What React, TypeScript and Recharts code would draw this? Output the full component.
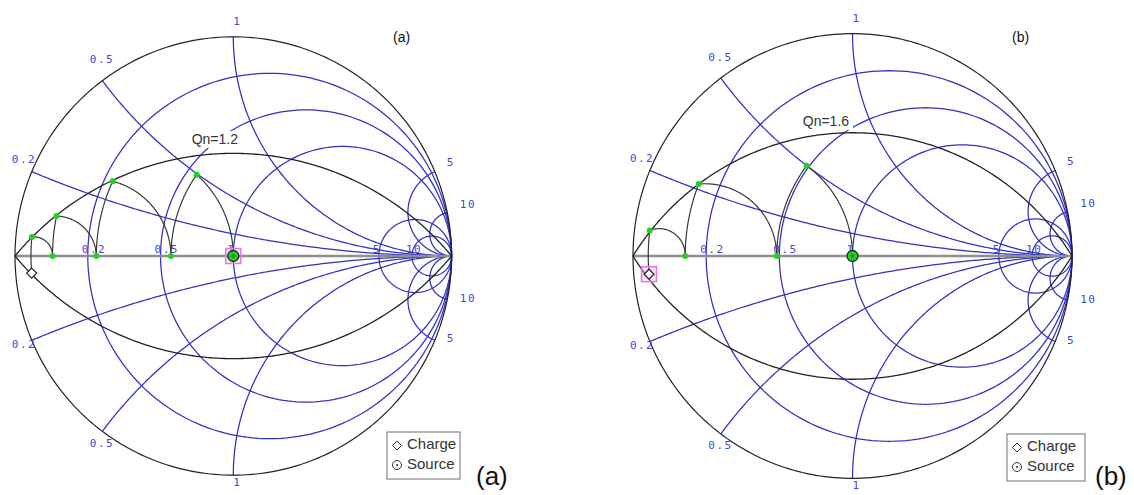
import React from 'react';
import { ScatterChart, Scatter, XAxis, YAxis } from 'recharts';

// ---------------- data ----------------
const resistanceValues = [0.2, 0.5, 1, 5, 10];
const reactanceValues = [0.2, 0.5, 1, 5, 10];
const resistanceTickLabels = ['0.2', '0.5', '1', '5', '10'];
const reactanceTickLabels = ['0.2', '0.5', '1', '5', '10'];

const qualityA = 1.2;
const qualityB = 1.6;
const qualityLabelA = 'Qn=1.2';
const qualityLabelB = 'Qn=1.6';

// matching path, normalized impedance nodes r + jx, from the load (first) to the source (last)
const pathAResistance = [0.038, 0.038, 0.094, 0.094, 0.229, 0.229, 0.556, 0.556, 1];
const pathAReactance = [-0.042, 0.047, 0, 0.11, 0, 0.27, 0, 0.494, 0];
const pathAElements = ['series', 'shunt', 'series', 'shunt', 'series', 'shunt', 'series', 'shunt'];

const pathBResistance = [0.036, 0.036, 0.135, 0.135, 0.487, 0.487, 1];
const pathBReactance = [-0.044, 0.062, 0, 0.216, 0, 0.499, 0];
const pathBElements = ['series', 'shunt', 'series', 'shunt', 'series', 'shunt'];

const legendLabels = ['Charge', 'Source'];
const panelTags = ['(a)', '(b)'];
const highlightedNode = ['source', 'load'];

// ---------------- layout & style ----------------
const PAGE_W = 1134;
const PAGE_H = 495;
const LAYOUT = [
  { left: 0, width: 570, cx: 233.3, cy: 256, rx: 218.3, ry: 219.2, qAt: -0.08, qDx: -1, qDy: -10,
    tagX: 393, tagY: 42, capX: 476, box: { x: 387, y: 432, w: 73, h: 47 } },
  { left: 575, width: 559, cx: 852.5, cy: 256, rx: 219.5, ry: 222.4, qAt: -0.121, qDx: 0, qDy: -8,
    tagX: 1012, tagY: 42, capX: 1095, box: { x: 1007, y: 434, w: 78, h: 47 } },
];
const X_NUDGE: Record<string, { dx: number; up: number; down: number }> = {
  '0.2': { dx: -20, up: -8.5, down: 7.5 },
  '0.5': { dx: -12.5, up: -17.5, down: 15.5 },
  '1': { dx: 0, up: -12, down: 11 },
  '5': { dx: 12, up: -5.5, down: 2 },
  '10': { dx: 12.5, up: -4.5, down: 3 },
};
const BLUE = '#3030c2';
const LABEL_BLUE = '#4545d2';
const BLACK = '#222222';
const PATH = '#383838';
const AXIS = '#8f8f8f';
const GREEN = '#22d022';
const PINK = '#e27ae2';
const SANS = '"Liberation Sans", Arial, sans-serif';

// ---------------- geometry helpers ----------------
type Pt = { x: number; y: number };
const toGamma = (r: number, x: number): Pt => {
  const den = (r + 1) * (r + 1) + x * x;
  return { x: (r * r - 1 + x * x) / den, y: (2 * x) / den };
};
const inv = (a: number, b: number) => {
  const d = a * a + b * b;
  return { a: a / d, b: -b / d };
};
const arcPoints = (cx: number, cy: number, rad: number, a0: number, a1: number, n: number): Pt[] => {
  const pts: Pt[] = [];
  for (let i = 0; i <= n; i++) {
    const a = a0 + ((a1 - a0) * i) / n;
    pts.push({ x: cx + rad * Math.cos(a), y: cy + rad * Math.sin(a) });
  }
  return pts;
};
const resistanceCircle = (r: number) => arcPoints(r / (1 + r), 0, 1 / (1 + r), 0, 2 * Math.PI, 200);
const reactanceEdge = (v: number): Pt => ({ x: (v * v - 1) / (v * v + 1), y: (2 * v) / (v * v + 1) });
const reactanceArc = (v: number, sign: number) => {
  const e = reactanceEdge(v);
  const c = 1 / v;
  const a0 = Math.atan2(e.y - c, e.x - 1);
  let a1 = -Math.PI / 2;
  if (a1 < a0) a1 += 2 * Math.PI;
  return arcPoints(1, c, c, a0, a1, 180).map((p) => ({ x: p.x, y: sign * p.y }));
};
const qualityArc = (q: number, sign: number) => {
  const c = 1 / q;
  const R = Math.sqrt(1 + c * c);
  const a = Math.atan(c);
  return arcPoints(0, -c, R, Math.PI - a, a, 220).map((p) => ({ x: p.x, y: sign * p.y }));
};
const qualityArcY = (q: number, gx: number) => -1 / q + Math.sqrt(1 + 1 / (q * q) - gx * gx);
const segmentPoints = (r0: number, x0: number, r1: number, x1: number, kind: string, n = 100): Pt[] => {
  const pts: Pt[] = [];
  const y0 = inv(r0, x0);
  const y1 = inv(r1, x1);
  for (let i = 0; i <= n; i++) {
    const t = i / n;
    if (kind === 'series') {
      pts.push(toGamma(r0 + (r1 - r0) * t, x0 + (x1 - x0) * t));
    } else {
      const z = inv(y0.a + (y1.a - y0.a) * t, y0.b + (y1.b - y0.b) * t);
      pts.push(toGamma(z.a, z.b));
    }
  }
  return pts;
};

// ---------------- shapes ----------------
const Nothing = () => <g />;
const makeText = (style: any) => (p: any) => (
  <text x={p.cx + p.payload.dx} y={p.cy + p.payload.dy} {...style}>
    {p.payload.label}
  </text>
);
const blueText = makeText({ fill: LABEL_BLUE, fontSize: 11, fontFamily: '"DejaVu Sans Mono", monospace', letterSpacing: 1.5 });
const QLabel = (p: any) => {
  const x = p.cx + p.payload.dx;
  const y = p.cy + p.payload.dy;
  return (
    <g>
      <rect x={x - 27} y={y - 13} width={54} height={17} fill="#ffffff" />
      <text x={x} y={y} textAnchor="middle" fill="#333" fontSize={14} fontFamily={SANS}>
        {p.payload.label}
      </text>
    </g>
  );
};
const GreenDot = (p: any) => <circle cx={p.cx} cy={p.cy} r={3} fill={GREEN} />;
const Diamond = (p: any) => (
  <polygon
    points={`${p.cx},${p.cy - 5} ${p.cx + 5},${p.cy} ${p.cx},${p.cy + 5} ${p.cx - 5},${p.cy}`}
    fill="#fff"
    stroke="#222"
    strokeWidth={1.2}
  />
);
const SourceMark = (p: any) => (
  <g>
    <circle cx={p.cx} cy={p.cy} r={5.5} fill={GREEN} stroke="#222" strokeWidth={1.3} />
    <circle cx={p.cx} cy={p.cy} r={2} fill="#119911" />
  </g>
);
const PinkSquare = (p: any) => (
  <rect x={p.cx - 7.5} y={p.cy - 7.5} width={15} height={15} fill="rgba(240,170,240,0.35)" stroke={PINK} strokeWidth={1.5} />
);

const curve = (key: string, data: Pt[], stroke: string, width: number) => (
  <Scatter
    key={key}
    data={data}
    line={{ stroke, strokeWidth: width }}
    lineType="joint"
    shape={Nothing}
    isAnimationActive={false}
  />
);

function SmithPanel({ index, quality, qLabel, rs, xs, kinds }: any) {
  const L = LAYOUT[index];
  const lcx = L.cx - L.left;
  const xDomain = [-lcx / L.rx, (L.width - lcx) / L.rx];
  const yDomain = [(L.cy - PAGE_H) / L.ry, L.cy / L.ry];

  const nodes = rs.map((r: number, i: number) => toGamma(r, xs[i]));
  const rLabels = resistanceValues.map((r, i) => ({ ...toGamma(r, 0), label: resistanceTickLabels[i], dx: -6, dy: -3 }));
  const xLabels = reactanceValues.flatMap((v, i) => {
    const e = reactanceEdge(v);
    const n = X_NUDGE[reactanceTickLabels[i]];
    return [
      { x: e.x, y: e.y, label: reactanceTickLabels[i], dx: n.dx, dy: n.up },
      { x: e.x, y: -e.y, label: reactanceTickLabels[i], dx: n.dx, dy: n.down },
    ];
  });
  const qPoint = [{ x: L.qAt, y: qualityArcY(quality, L.qAt), label: qLabel, dx: L.qDx, dy: L.qDy }];
  const hl = highlightedNode[index] === 'load' ? [nodes[0]] : [nodes[nodes.length - 1]];

  const children: any[] = [];
  resistanceValues.forEach((r) => children.push(curve(`r${r}`, resistanceCircle(r), BLUE, 1.25)));
  reactanceValues.forEach((v) => {
    children.push(curve(`xp${v}`, reactanceArc(v, 1), BLUE, 1.25));
    children.push(curve(`xn${v}`, reactanceArc(v, -1), BLUE, 1.25));
  });
  children.push(
    <Scatter key="qlab" data={qPoint} shape={QLabel} isAnimationActive={false} />
  );
  children.push(curve('axis', [{ x: -1, y: 0 }, { x: 1, y: 0 }], AXIS, 2.4));
  children.push(curve('unit', arcPoints(0, 0, 1, 0, 2 * Math.PI, 300), BLACK, 1.2));
  children.push(curve('qup', qualityArc(quality, 1), BLACK, 1.3));
  children.push(curve('qdn', qualityArc(quality, -1), BLACK, 1.3));
  children.push(<Scatter key="rl" data={rLabels} shape={blueText} isAnimationActive={false} />);
  children.push(<Scatter key="xl" data={xLabels} shape={blueText} isAnimationActive={false} />);
  kinds.forEach((k: string, i: number) =>
    children.push(curve(`seg${i}`, segmentPoints(rs[i], xs[i], rs[i + 1], xs[i + 1], k), PATH, 1.2))
  );
  children.push(<Scatter key="hl" data={hl} shape={PinkSquare} isAnimationActive={false} />);
  children.push(<Scatter key="dots" data={nodes.slice(1, -1)} shape={GreenDot} isAnimationActive={false} />);
  children.push(<Scatter key="load" data={[nodes[0]]} shape={Diamond} isAnimationActive={false} />);
  children.push(<Scatter key="src" data={[nodes[nodes.length - 1]]} shape={SourceMark} isAnimationActive={false} />);

  return (
    <div style={{ position: 'absolute', left: L.left, top: 0, width: L.width, height: PAGE_H }}>
      <ScatterChart width={L.width} height={PAGE_H} margin={{ top: 0, right: 0, bottom: 0, left: 0 }}>
        <XAxis type="number" dataKey="x" domain={xDomain} hide allowDataOverflow />
        <YAxis type="number" dataKey="y" domain={yDomain} hide allowDataOverflow />
        {children}
      </ScatterChart>
    </div>
  );
}

function Overlay() {
  return (
    <svg
      width={PAGE_W}
      height={PAGE_H}
      style={{ position: 'absolute', left: 0, top: 0, pointerEvents: 'none' }}
    >
      {LAYOUT.map((L, i) => {
        const b = L.box;
        return (
          <g key={i}>
            <text x={L.tagX} y={L.tagY} fontSize={14} fontFamily={SANS} fill="#111">
              {panelTags[i]}
            </text>
            <text x={L.capX} y={485} fontSize={26} fontFamily={SANS} fill="#111">
              {panelTags[i]}
            </text>
            <rect x={b.x} y={b.y} width={b.w} height={b.h} fill="#fff" stroke="#6e6e6e" strokeWidth={1} />
            <polygon
              points={`${b.x + 10},${b.y + 9} ${b.x + 14.5},${b.y + 13.5} ${b.x + 10},${b.y + 18} ${b.x + 5.5},${b.y + 13.5}`}
              fill="#fff"
              stroke="#333"
              strokeWidth={1}
            />
            <text x={b.x + 20} y={b.y + 17} fontSize={15} fontFamily={SANS} fill="#333">
              {legendLabels[0]}
            </text>
            <circle cx={b.x + 10} cy={b.y + 33} r={4.5} fill="#fff" stroke="#333" strokeWidth={1} />
            <circle cx={b.x + 10} cy={b.y + 33} r={1} fill="#333" />
            <text x={b.x + 20} y={b.y + 37} fontSize={15} fontFamily={SANS} fill="#333">
              {legendLabels[1]}
            </text>
          </g>
        );
      })}
    </svg>
  );
}

export default function App() {
  return (
    <div style={{ position: 'absolute', left: 0, top: 0, width: PAGE_W, height: PAGE_H, background: '#fff' }}>
      <SmithPanel index={0} quality={qualityA} qLabel={qualityLabelA} rs={pathAResistance} xs={pathAReactance} kinds={pathAElements} />
      <SmithPanel index={1} quality={qualityB} qLabel={qualityLabelB} rs={pathBResistance} xs={pathBReactance} kinds={pathBElements} />
      <Overlay />
    </div>
  );
}
